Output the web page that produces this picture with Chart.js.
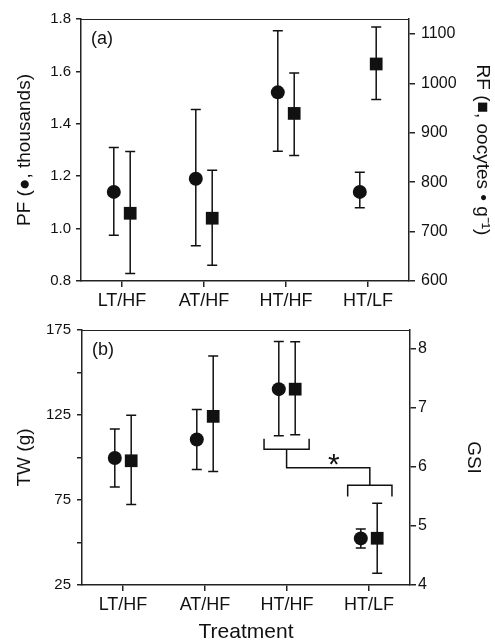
<!DOCTYPE html>
<html lang="en">
<head>
<meta charset="UTF-8">
<title>PF, RF, TW and GSI by treatment</title>
<script src="https://cdn.jsdelivr.net/npm/chart.js@4.4.1/dist/chart.umd.min.js"></script>
<style>
*{
    margin: 0px;
    padding: 0px;
    box-sizing: border-box;
}
body{
    background: #fff;
    width: 495px;
    height: 642px;
    position: relative;
    overflow: hidden;
}
#panelA{ position: absolute; left: 0; top: 0; }
#panelB{ position: absolute; left: 0; top: 315px; }
</style>
</head>
<body>
<canvas id="panelA" width="495" height="315"></canvas>
<canvas id="panelB" width="495" height="327"></canvas>
<script>
// categories
const categories = ["LT/HF", "AT/HF", "HT/HF", "HT/LF"];

// (a) PF, thousands (circles, left axis)
const pfMean = [1.14, 1.19, 1.52, 1.14];
const pfLow  = [0.975, 0.935, 1.295, 1.08];
const pfHigh = [1.31, 1.455, 1.755, 1.215];
// (a) RF, oocytes per g (squares, right axis)
const rfMean = [737, 727, 939, 1039];
const rfLow  = [615, 632, 854, 967];
const rfHigh = [862, 824, 1021, 1114];

// (b) TW, g (circles, left axis)
const twMean = [99.7, 110.6, 140.2, 52.4];
const twLow  = [82.6, 92.9, 112.8, 46.7];
const twHigh = [116.8, 128.2, 168.2, 58];
// (b) GSI (squares, right axis)
const gsiMean = [6.10, 6.85, 7.31, 4.79];
const gsiLow  = [5.36, 5.92, 6.54, 4.20];
const gsiHigh = [6.87, 7.87, 8.11, 5.38];

// tick labels
const pfTicks  = [0.8, 1.0, 1.2, 1.4, 1.6, 1.8];
const rfTicks  = [600, 700, 800, 900, 1000, 1100];
const twTicks  = [25, 50, 75, 100, 125, 150, 175];
const twLabels = [25, 75, 125, 175];
const gsiTicks = [4, 5, 6, 7, 8];

Chart.defaults.font.family = "'Liberation Sans', Arial, sans-serif";
Chart.defaults.color = "#111";

const INK = "#111";
const AXIS = "#222";

function points(mean, shift) {
  return mean.map((v, i) => ({ x: i + shift, y: v }));
}

// whiskers with caps, drawn under the markers
const errorBars = {
  id: "errorBars",
  beforeDatasetsDraw(chart) {
    const ctx = chart.ctx;
    ctx.save();
    ctx.strokeStyle = INK;
    ctx.lineWidth = 1.5;
    chart.data.datasets.forEach((ds, di) => {
      const meta = chart.getDatasetMeta(di);
      const ys = chart.scales[ds.yAxisID];
      meta.data.forEach((pt, i) => {
        const top = ys.getPixelForValue(ds.high[i]);
        const bot = ys.getPixelForValue(ds.low[i]);
        ctx.beginPath();
        ctx.moveTo(pt.x, top); ctx.lineTo(pt.x, bot);
        ctx.moveTo(pt.x - 5, top); ctx.lineTo(pt.x + 5, top);
        ctx.moveTo(pt.x - 5, bot); ctx.lineTo(pt.x + 5, bot);
        ctx.stroke();
      });
    });
    ctx.restore();
  },
  afterDraw(chart, args, opts) {
    const ctx = chart.ctx;
    const a = chart.chartArea;
    ctx.save();
    // top frame line
    ctx.strokeStyle = AXIS;
    ctx.lineWidth = 1;
    ctx.beginPath();
    ctx.moveTo(a.left, a.top + 0.5); ctx.lineTo(a.right, a.top + 0.5);
    ctx.stroke();
    // panel letter
    ctx.fillStyle = INK;
    ctx.font = "18px 'Liberation Sans', Arial, sans-serif";
    ctx.textBaseline = "middle";
    ctx.fillText(opts.label, a.left + 10, a.top + 20);
    ctx.restore();
  }
};

// significance brackets in (b), placed in data units
const bracketLeft  = [1.72, 2.27];
const bracketRight = [2.74, 3.28];
const bracketY     = { leftTop: 111, leftBar: 104.8, link: 94, rightBar: 83.7, rightTip: 77 };
const starAt       = { x: 2.57, y: 100.5 };

const brackets = {
  id: "brackets",
  afterDatasetsDraw(chart, args, opts) {
    if (!opts.show) return;
    const ctx = chart.ctx;
    const X = v => chart.scales.x.getPixelForValue(v);
    const Y = v => chart.scales.y.getPixelForValue(v);
    const midL = (bracketLeft[0] + bracketLeft[1]) / 2;
    const midR = (bracketRight[0] + bracketRight[1]) / 2;
    ctx.save();
    ctx.strokeStyle = INK;
    ctx.lineWidth = 1.5;
    ctx.beginPath();
    ctx.moveTo(X(bracketLeft[0]), Y(bracketY.leftTop));
    ctx.lineTo(X(bracketLeft[0]), Y(bracketY.leftBar));
    ctx.lineTo(X(bracketLeft[1]), Y(bracketY.leftBar));
    ctx.lineTo(X(bracketLeft[1]), Y(bracketY.leftTop));
    ctx.moveTo(X(midL), Y(bracketY.leftBar));
    ctx.lineTo(X(midL), Y(bracketY.link));
    ctx.lineTo(X(midR), Y(bracketY.link));
    ctx.lineTo(X(midR), Y(bracketY.rightBar));
    ctx.moveTo(X(bracketRight[0]), Y(bracketY.rightTip));
    ctx.lineTo(X(bracketRight[0]), Y(bracketY.rightBar));
    ctx.lineTo(X(bracketRight[1]), Y(bracketY.rightBar));
    ctx.lineTo(X(bracketRight[1]), Y(bracketY.rightTip));
    ctx.stroke();
    ctx.fillStyle = INK;
    ctx.font = "30px 'Liberation Sans', Arial, sans-serif";
    ctx.textAlign = "center";
    ctx.textBaseline = "alphabetic";
    ctx.fillText("*", X(starAt.x), Y(starAt.y) + 17);
    ctx.restore();
  }
};

function makeChart(id, p) {
  return new Chart(document.getElementById(id), {
    type: "scatter",
    data: {
      datasets: [
        {
          data: points(p.leftMean, -0.1), low: p.leftLow, high: p.leftHigh,
          yAxisID: "y", pointStyle: "circle", pointRadius: 7,
          backgroundColor: INK, borderColor: INK, borderWidth: 0
        },
        {
          data: points(p.rightMean, 0.1), low: p.rightLow, high: p.rightHigh,
          yAxisID: "y2", pointStyle: "rect", pointRadius: 9,
          backgroundColor: INK, borderColor: INK, borderWidth: 0
        }
      ]
    },
    options: {
      responsive: false,
      animation: false,
      layout: { padding: { top: p.padTop, left: 0, right: 0, bottom: 0 } },
      plugins: {
        legend: { display: false },
        tooltip: { enabled: false },
        errorBars: { label: p.label },
        brackets: { show: p.brackets }
      },
      scales: {
        x: {
          type: "linear", min: -0.5, max: 3.5,
          afterBuildTicks: s => { s.ticks = categories.map((c, i) => ({ value: i })); },
          afterFit: s => { s.height = p.xHeight; },
          ticks: {
            callback: v => categories[v], autoSkip: false, maxRotation: 0,
            font: { size: 18 }, color: INK, padding: 3
          },
          grid: { drawOnChartArea: false, drawTicks: true, tickLength: 6, color: AXIS, lineWidth: 1.5 },
          border: { display: true, color: AXIS, width: 1.5 },
          title: {
            display: p.xTitle !== "", text: p.xTitle, color: INK,
            font: { size: 21 }, padding: { top: 0, bottom: -3 }
          }
        },
        y: {
          position: "left", min: p.leftMin, max: p.leftMax,
          afterBuildTicks: s => { s.ticks = p.leftTicks.map(v => ({ value: v })); },
          afterFit: s => { s.width = p.leftWidth; },
          ticks: {
            callback: p.leftLabel, autoSkip: false,
            font: { size: 15 }, color: INK, padding: p.leftPad
          },
          grid: { drawOnChartArea: false, drawTicks: true, tickLength: 5, color: AXIS, lineWidth: 1.5 },
          border: { display: true, color: AXIS, width: 1.5 },
          title: {
            display: true, text: p.leftTitle, color: INK,
            font: { size: 19 }, padding: { top: 13.5, bottom: 0 }
          }
        },
        y2: {
          position: "right", min: p.rightMin, max: p.rightMax,
          afterBuildTicks: s => { s.ticks = p.rightTicks.map(v => ({ value: v })); },
          afterFit: s => { s.width = p.rightWidth; },
          ticks: {
            callback: v => String(v), autoSkip: false,
            font: { size: 16 }, color: INK, padding: p.rightPad
          },
          grid: { drawOnChartArea: false, drawTicks: true, tickLength: 6, color: AXIS, lineWidth: 1.5 },
          border: { display: true, color: AXIS, width: 1.5 },
          title: {
            display: true, text: p.rightTitle, color: INK,
            font: { size: 19 }, padding: { top: p.rightTitlePad, bottom: 0 }
          }
        }
      }
    },
    plugins: [errorBars, brackets]
  });
}

makeChart("panelA", {
  label: "(a)", brackets: false, padTop: 19, xHeight: 34, leftWidth: 81, rightWidth: 86,
  leftMean: pfMean, leftLow: pfLow, leftHigh: pfHigh,
  rightMean: rfMean, rightLow: rfLow, rightHigh: rfHigh,
  leftMin: 0.8, leftMax: 1.8, leftTicks: pfTicks, leftLabel: v => v.toFixed(1), leftPad: 5,
  rightMin: 600, rightMax: 1130, rightTicks: rfTicks, rightPad: 6,
  leftTitle: "PF (●, thousands)", rightTitle: "RF (■, oocytes • g⁻¹)", rightTitlePad: 1.5,
  xTitle: ""
});

makeChart("panelB", {
  label: "(b)", brackets: true, padTop: 7, xHeight: 57, leftWidth: 82, rightWidth: 85,
  leftMean: twMean, leftLow: twLow, leftHigh: twHigh,
  rightMean: gsiMean, rightLow: gsiLow, rightHigh: gsiHigh,
  leftMin: 25, leftMax: 175, leftTicks: twTicks,
  leftLabel: v => (twLabels.includes(v) ? String(v) : ""), leftPad: 6,
  rightMin: 4, rightMax: 8.31, rightTicks: gsiTicks, rightPad: 2,
  leftTitle: "TW (g)", rightTitle: "GSI", rightTitlePad: 10.5,
  xTitle: "Treatment"
});
</script>
</body>
</html>
